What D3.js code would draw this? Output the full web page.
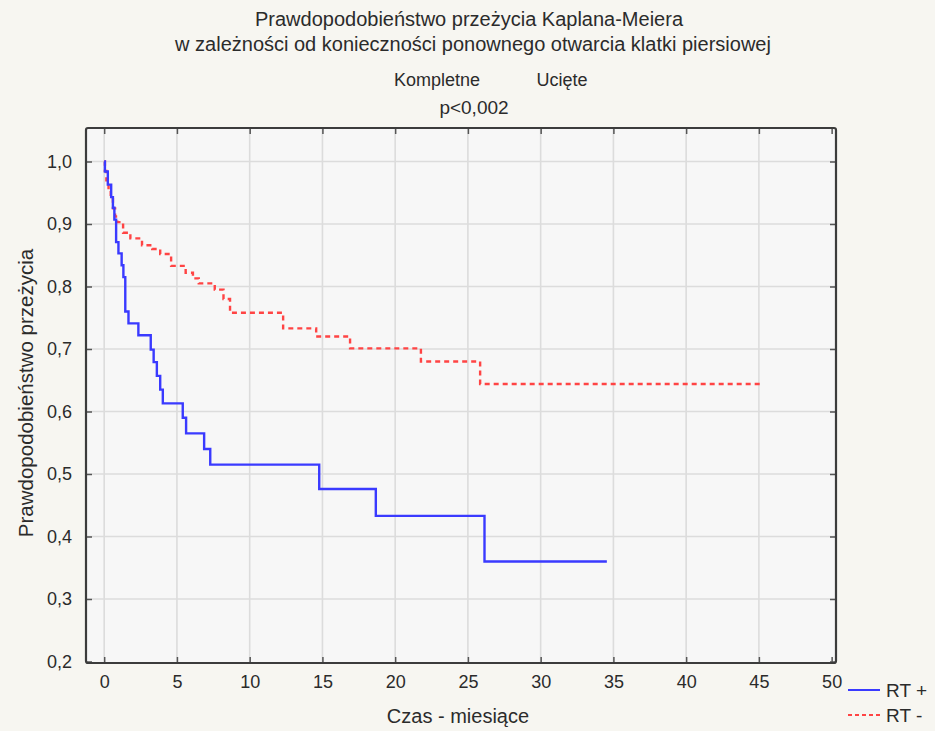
<!DOCTYPE html>
<html>
<head>
<meta charset="utf-8">
<script src="https://cdn.jsdelivr.net/npm/d3@7"></script>
<style>
  html, body { margin: 0; padding: 0; background: #f7f6f1; }
  svg { display: block; }
  text { font-family: Arial, "Liberation Sans", sans-serif; fill: #2b2b2b; }
</style>
</head>
<body>
<svg id="chart" width="935" height="731"></svg>
<script>
// Kaplan-Meier survival curves (time in months, survival probability)
const rtPlusMonths = [0, 0.05, 0.25, 0.48, 0.6, 0.7, 0.82, 0.98, 1.2, 1.32, 1.45, 1.67, 2.35, 3.2, 3.4, 3.62, 3.85, 4.03, 5.4, 5.63, 6.87, 7.29, 14.78, 18.67, 26.14, 34.55];
const rtPlusSurvival = [1.0, 0.984, 0.963, 0.943, 0.926, 0.907, 0.871, 0.853, 0.834, 0.815, 0.760, 0.741, 0.722, 0.699, 0.679, 0.657, 0.635, 0.613, 0.590, 0.565, 0.540, 0.515, 0.476, 0.433, 0.360, 0.360];

const rtMinusMonths = [0, 0.05, 0.15, 0.3, 0.45, 0.6, 0.75, 0.9, 1.3, 1.8, 2.6, 3.3, 3.85, 4.6, 5.6, 6.1, 6.5, 7.6, 8.2, 8.65, 12.3, 14.57, 16.9, 21.77, 25.84, 45.3];
const rtMinusSurvival = [1.0, 0.985, 0.97, 0.955, 0.94, 0.925, 0.912, 0.903, 0.886, 0.877, 0.866, 0.86, 0.852, 0.833, 0.822, 0.813, 0.805, 0.795, 0.78, 0.758, 0.733, 0.72, 0.701, 0.68, 0.644, 0.644];

const xTicks = [0, 5, 10, 15, 20, 25, 30, 35, 40, 45, 50];
const yTicks = [0.2, 0.3, 0.4, 0.5, 0.6, 0.7, 0.8, 0.9, 1.0];

const titleLines = [
  "Prawdopodobieństwo przeżycia Kaplana-Meiera",
  "w zależności od konieczności ponownego otwarcia klatki piersiowej"
];
const censorLabels = ["Kompletne", "Ucięte"];
const pValueLabel = "p<0,002";
const xLabel = "Czas - miesiące";
const yLabel = "Prawdopodobieństwo przeżycia";
const seriesNames = ["RT +", "RT -"];
const seriesColors = ["#3a3aff", "#ff4444"];

const svg = d3.select("#chart");

// plot box
const box = { left: 86, top: 128, right: 836, bottom: 663 };

const x = d3.scaleLinear().domain([-1.25, 50.3]).range([box.left, box.right]);
const y = d3.scaleLinear().domain([0.1976, 1.0536]).range([box.bottom, box.top]);

const fmt = v => d3.format(".1f")(v).replace(".", ",");

// background of the plot area
svg.append("rect")
  .attr("x", box.left).attr("y", box.top)
  .attr("width", box.right - box.left).attr("height", box.bottom - box.top)
  .attr("fill", "#f7f7f7");

// grid
const grid = svg.append("g").attr("stroke", "#dcdcdc").attr("stroke-width", 1.6);
grid.selectAll(".gx").data(xTicks.filter(t => t < 50)).join("line")
  .attr("x1", d => x(d)).attr("x2", d => x(d))
  .attr("y1", box.top).attr("y2", box.bottom);
grid.selectAll(".gy").data(yTicks.filter(t => t > 0.2)).join("line")
  .attr("x1", box.left).attr("x2", box.right)
  .attr("y1", d => y(d)).attr("y2", d => y(d));

// axes with inward ticks
const axisBottom = d3.axisBottom(x).tickValues(xTicks).tickSize(-6).tickPadding(12).tickFormat(d3.format("d"));
const axisTop = d3.axisTop(x).tickValues(xTicks).tickSize(-6).tickFormat("");
const axisLeft = d3.axisLeft(y).tickValues(yTicks).tickSize(-6).tickPadding(14).tickFormat(fmt);
const axisRight = d3.axisRight(y).tickValues(yTicks).tickSize(-6).tickFormat("");

function styleAxis(g) {
  g.select(".domain").remove();
  g.selectAll(".tick line").attr("stroke", "#555").attr("stroke-width", 1.5);
  g.selectAll(".tick text").attr("font-size", 18).attr("fill", "#2b2b2b")
    .attr("font-family", "Arial, 'Liberation Sans', sans-serif");
}
svg.append("g").attr("transform", `translate(0,${box.bottom})`).call(axisBottom).call(styleAxis);
svg.append("g").attr("transform", `translate(0,${box.top})`).call(axisTop).call(styleAxis);
svg.append("g").attr("transform", `translate(${box.left},0)`).call(axisLeft).call(styleAxis);
svg.append("g").attr("transform", `translate(${box.right},0)`).call(axisRight).call(styleAxis);

// curves
const line = d3.line()
  .x(d => x(d[0])).y(d => y(d[1]))
  .curve(d3.curveStepAfter);

svg.append("clipPath").attr("id", "plotClip").append("rect")
  .attr("x", box.left).attr("y", box.top)
  .attr("width", box.right - box.left).attr("height", box.bottom - box.top);

const curves = svg.append("g").attr("clip-path", "url(#plotClip)");
curves.append("path")
  .datum(d3.zip(rtMinusMonths, rtMinusSurvival))
  .attr("d", line).attr("fill", "none")
  .attr("stroke", seriesColors[1]).attr("stroke-width", 2.4)
  .attr("stroke-dasharray", "5,4");
curves.append("path")
  .datum(d3.zip(rtPlusMonths, rtPlusSurvival))
  .attr("d", line).attr("fill", "none")
  .attr("stroke", seriesColors[0]).attr("stroke-width", 2.4);

// frame
svg.append("rect")
  .attr("x", box.left).attr("y", box.top)
  .attr("width", box.right - box.left).attr("height", box.bottom - box.top)
  .attr("rx", 2)
  .attr("fill", "none").attr("stroke", "#3c3c3c").attr("stroke-width", 2.2);

// titles
svg.append("text").attr("x", 469).attr("y", 26).attr("text-anchor", "middle")
  .attr("font-size", 20).text(titleLines[0]);
svg.append("text").attr("x", 473).attr("y", 51).attr("text-anchor", "middle")
  .attr("font-size", 20).text(titleLines[1]);
svg.append("text").attr("x", 437).attr("y", 86).attr("text-anchor", "middle")
  .attr("font-size", 18).text(censorLabels[0]);
svg.append("text").attr("x", 562).attr("y", 86).attr("text-anchor", "middle")
  .attr("font-size", 18).text(censorLabels[1]);
svg.append("text").attr("x", 474).attr("y", 114).attr("text-anchor", "middle")
  .attr("font-size", 19).text(pValueLabel);

// axis titles
svg.append("text").attr("x", 458).attr("y", 723).attr("text-anchor", "middle")
  .attr("font-size", 20).text(xLabel);
svg.append("text")
  .attr("transform", `translate(33,393) rotate(-90)`)
  .attr("text-anchor", "middle").attr("font-size", 20.5).text(yLabel);

// legend
const legend = svg.append("g").attr("transform", "translate(848,690)");
seriesNames.forEach((name, i) => {
  const g = legend.append("g").attr("transform", `translate(0,${i * 25})`);
  g.append("line").attr("x1", 0).attr("x2", 32).attr("y1", 0).attr("y2", 0)
    .attr("stroke", seriesColors[i]).attr("stroke-width", 2)
    .attr("stroke-dasharray", i === 1 ? "4,3" : null);
  g.append("text").attr("x", 38).attr("y", 7).attr("font-size", 19).text(name);
});
</script>
</body>
</html>
